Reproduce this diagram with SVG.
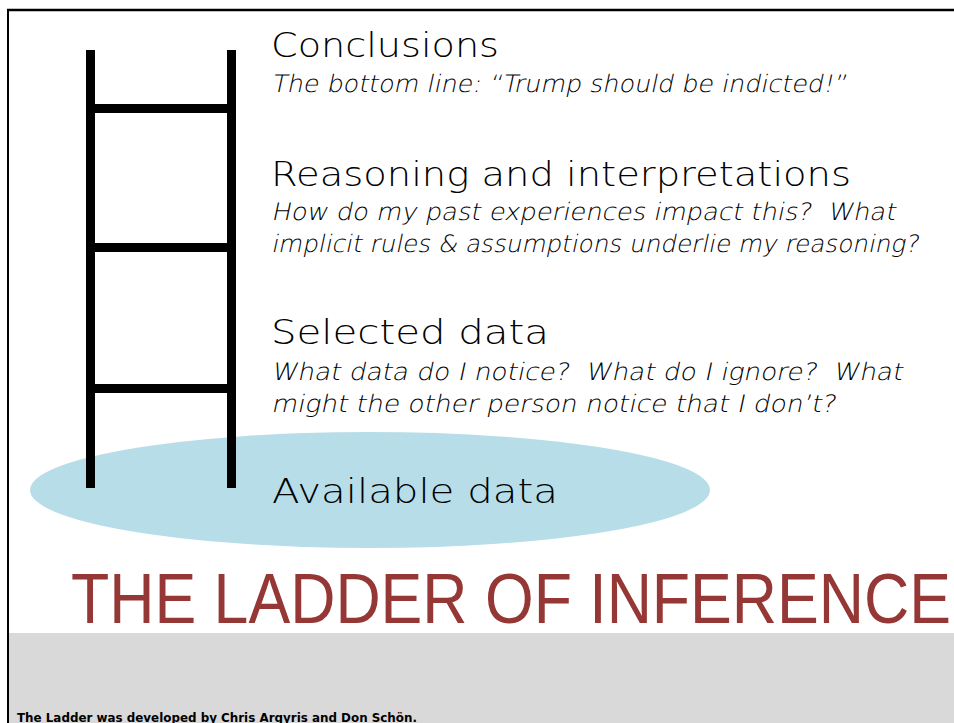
<svg xmlns="http://www.w3.org/2000/svg" width="954" height="723" viewBox="0 0 954 723">
  <style>
    .head { font-family: "DejaVu Sans", "Liberation Sans", sans-serif; font-weight: 200; font-size: 33px; fill: #000; }
    .sub { font-family: "DejaVu Sans", "Liberation Sans", sans-serif; font-weight: 200; font-size: 24px; fill: #000; white-space: pre; }
    .rail { fill: #000; }
    .title { font-family: "Liberation Sans", "DejaVu Sans", sans-serif; font-size: 70px; fill: #953735; }
    .credit { font-family: "DejaVu Sans", "Liberation Sans", sans-serif; font-weight: bold; font-size: 12px; fill: #000; }
  </style>

  <!-- page background and frame -->
  <rect x="0" y="0" width="954" height="723" fill="#ffffff"/>
  <rect x="9" y="633" width="945" height="90" fill="#d9d9d9"/>
  <line x1="7" y1="10" x2="954" y2="10" stroke="#000" stroke-width="2.5"/>
  <line x1="8" y1="9" x2="8" y2="723" stroke="#000" stroke-width="2"/>

  <!-- ground: the pool of available data -->
  <g id="available-data">
    <ellipse cx="370" cy="490" rx="340" ry="58" fill="#b7dde8"/>
    <text class="head" x="272" y="503" textLength="286" lengthAdjust="spacingAndGlyphs">Available data</text>
  </g>

  <!-- the ladder: two rails and three rungs -->
  <g id="ladder">
    <rect class="rail" x="86" y="50" width="9" height="438"/>
    <rect class="rail" x="227" y="50" width="9" height="438"/>
    <rect class="rail" x="90" y="104" width="141" height="9"/>
    <rect class="rail" x="90" y="243" width="141" height="9"/>
    <rect class="rail" x="90" y="384" width="141" height="9"/>
  </g>

  <!-- sub-lines are slanted light text, sheared about their own baseline -->
  <g id="conclusions">
    <text class="head" x="271" y="57" textLength="228" lengthAdjust="spacingAndGlyphs">Conclusions</text>
    <text class="sub" transform="translate(271 92) skewX(-12)" textLength="575" lengthAdjust="spacingAndGlyphs">The bottom line: “Trump should be indicted!”</text>
  </g>

  <g id="reasoning">
    <text class="head" x="271" y="186" textLength="580" lengthAdjust="spacingAndGlyphs">Reasoning and interpretations</text>
    <text class="sub" transform="translate(271 220) skewX(-12)" textLength="624" lengthAdjust="spacingAndGlyphs">How do my past experiences impact this?  What</text>
    <text class="sub" transform="translate(271 252) skewX(-12)" textLength="647" lengthAdjust="spacingAndGlyphs">implicit rules &amp; assumptions underlie my reasoning?</text>
  </g>

  <g id="selected-data">
    <text class="head" x="271" y="344" textLength="278" lengthAdjust="spacingAndGlyphs">Selected data</text>
    <text class="sub" transform="translate(271 380) skewX(-12)" textLength="631" lengthAdjust="spacingAndGlyphs">What data do I notice?  What do I ignore?  What</text>
    <text class="sub" transform="translate(271 412) skewX(-12)" textLength="564" lengthAdjust="spacingAndGlyphs">might the other person notice that I don’t?</text>
  </g>

  <g id="title">
    <text class="title" x="71" y="623" textLength="880" lengthAdjust="spacingAndGlyphs">THE LADDER OF INFERENCE</text>
  </g>

  <g id="credit">
    <text class="credit" x="17" y="722" textLength="400" lengthAdjust="spacingAndGlyphs">The Ladder was developed by Chris Argyris and Don Schön.</text>
  </g>
</svg>
